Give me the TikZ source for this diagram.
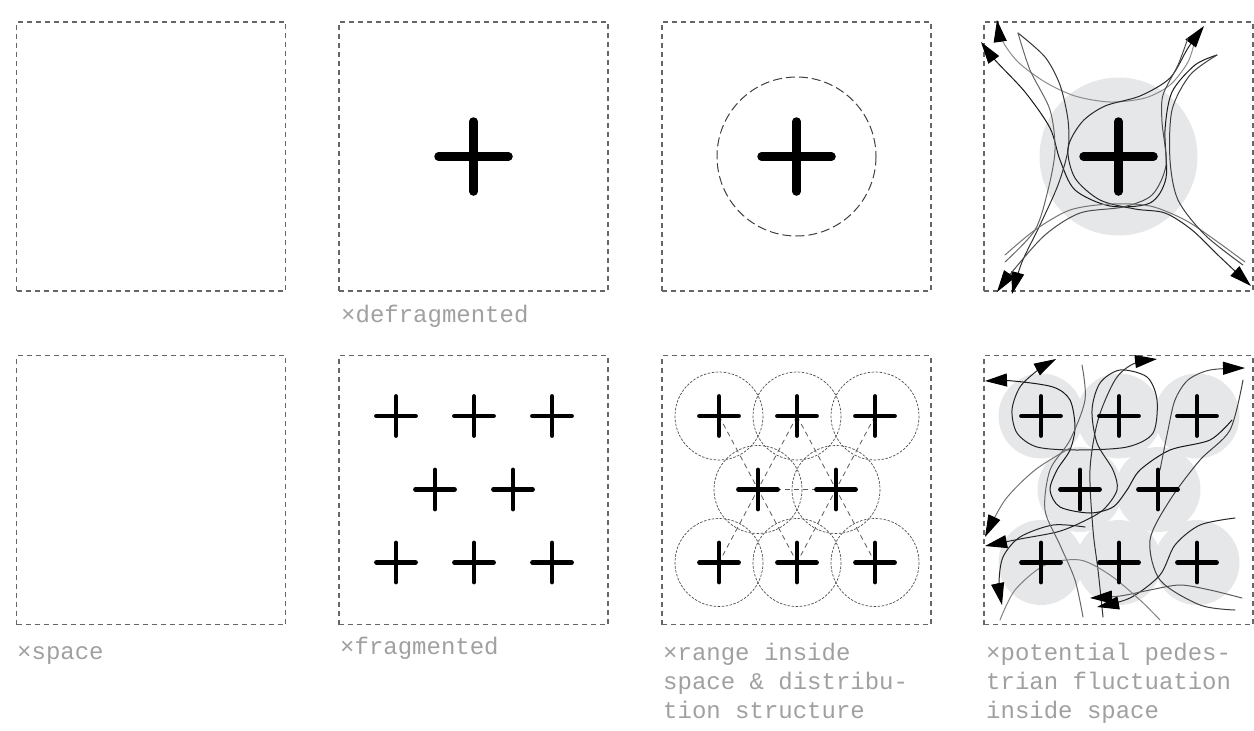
\documentclass[tikz,border=0pt]{standalone}
\usepackage{fontspec}
\newfontfamily\labfont{Liberation Mono}
\usetikzlibrary{arrows.meta}
\definecolor{boxgray}{HTML}{666666}
\definecolor{fillgray}{HTML}{E6E7E8}
\definecolor{txtgray}{HTML}{A0A0A0}
\tikzset{
  panel/.style={draw=boxgray, line width=1.1pt, dash pattern=on 5pt off 4pt, minimum size=269pt, inner sep=0pt},
  lab/.style={anchor=base west, inner sep=0pt, text=txtgray, font=\labfont\fontsize{24}{29}\selectfont},
  bigplus/.pic={\draw[line width=8.5pt,line cap=round] (-35,0)--(35,0) (0,-35)--(0,35);},
  smallplus/.pic={\draw[line width=4.8pt,line cap=round] (-19.5,0)--(19.5,0) (0,-19.5)--(0,19.5);},
  rangecircle/.style={draw=black!70, line width=0.7pt, dash pattern=on 2.5pt off 1.5pt},
  bigrange/.style={draw=black!75, line width=1pt, dash pattern=on 9pt off 4pt},
  link/.style={draw=black!65, line width=0.8pt, dash pattern=on 5pt off 4pt},
  flow/.style={line width=1pt, line cap=round},
  >={Triangle[length=22pt,width=13pt,color=black]},
  headend/.style={->},
  headstart/.style={<-},
  headboth/.style={<->},
}
\begin{document}
\begin{tikzpicture}[x=1pt,y=-1pt]
\useasboundingbox (0,0) rectangle (1254,731);

% ---------- panels ----------
\node[panel] (p11) at (151,156.5) {};
\node[panel] (p12) at (473.5,156.5) {};
\node[panel] (p13) at (796.5,156.5) {};
\node[panel] (p14) at (1118.5,156.5) {};
\node[panel] (p21) at (151,490) {};
\node[panel] (p22) at (473.5,490) {};
\node[panel] (p23) at (796.5,490) {};
\node[panel] (p24) at (1118.5,490) {};

% ---------- row 1 ----------
\pic at (p12.center) {bigplus};

\draw[bigrange] (p13.center) circle[radius=79.5];
\pic at (p13.center) {bigplus};

\fill[fillgray] (p14.center) circle[radius=79];
\begin{scope}[flow]
  \draw[headstart, draw=black!45] plot[smooth] coordinates {(997,20) (1002,40) (1018,62) (1045,82) (1075,96) (1110,102) (1145,98) (1170,85) (1188,62) (1195,40)};
  \draw[headstart, draw=black!90] plot[smooth] coordinates {(981,42) (995,60) (1025,92) (1050,128) (1060,160) (1075,190) (1110,206) (1150,203) (1166,178) (1165,130) (1172,92) (1195,65) (1217,55)};
  \draw[headend, draw=black!80] plot[smooth] coordinates {(1018,33) (1045,57) (1060,85) (1068,120) (1068,150) (1058,185) (1040,225) (1022,262) (1012,294)};
  \draw[headboth, draw=black!85] plot[smooth] coordinates {(1204,26) (1188,48) (1170,78) (1140,96) (1105,106) (1082,122) (1068,148) (1075,178) (1100,200) (1135,209) (1165,213) (1192,230) (1220,257) (1251,286)};
  \draw[headstart, draw=black!70] plot[smooth] coordinates {(997,292) (1012,272) (1045,235) (1080,213) (1123,207) (1152,195) (1166,165) (1162,122) (1163,95) (1178,65) (1188,38)};
  \draw[draw=black!55] plot[smooth] coordinates {(1005,255) (1035,230) (1070,210) (1110,204) (1150,206) (1185,220) (1215,240) (1245,262)};
  \draw[draw=black!75] plot[smooth] coordinates {(1217,55) (1190,75) (1172,110) (1170,160) (1178,200) (1205,235) (1243,265)};
  \draw[draw=black!60] plot[smooth] coordinates {(1018,33) (1030,70) (1050,110) (1055,150) (1048,190) (1035,230) (1005,262)};
\end{scope}
\pic at (p14.center) {bigplus};

% ---------- row 2 ----------
% fragmented
\foreach \x/\y in {396/416, 474/416, 552/416, 435/489.5, 513/489.5, 396/562.5, 474/562.5, 552/562.5}
  \pic at (\x,\y) {smallplus};

% range inside space
\coordinate (tl) at (719,416);
\coordinate (tm) at (797,416);
\coordinate (tr) at (875,416);
\coordinate (ml) at (758,489.5);
\coordinate (mr) at (836,489.5);
\coordinate (bl) at (719,562.5);
\coordinate (bm) at (797,562.5);
\coordinate (br) at (875,562.5);
\foreach \c in {tl,tm,tr,ml,mr,bl,bm,br}
  \draw[rangecircle] (\c) circle[radius=44];
\draw[link] (tl) -- (bm);
\draw[link] (tm) -- (bl);
\draw[link] (tm) -- (br);
\draw[link] (tr) -- (bm);
\draw[link] (ml) -- (mr);
\foreach \c in {tl,tm,tr,ml,mr,bl,bm,br}
  \pic at (\c) {smallplus};

% pedestrian fluctuation
\coordinate (qtl) at (1041,416);
\coordinate (qtm) at (1119,416);
\coordinate (qtr) at (1197,416);
\coordinate (qml) at (1080,489.5);
\coordinate (qmr) at (1158,489.5);
\coordinate (qbl) at (1041,562.5);
\coordinate (qbm) at (1119,562.5);
\coordinate (qbr) at (1197,562.5);
\foreach \c in {qtl,qtm,qtr,qml,qmr,qbl,qbm,qbr}
  \fill[fillgray] (\c) circle[radius=42.5];
\begin{scope}[flow]
  \draw[headboth, draw=black!85] plot[smooth] coordinates {(1056,359) (1038,370) (1020,387) (1012,410) (1017,433) (1037,447) (1077,450) (1127,447) (1153,433) (1157,400) (1147,377) (1120,370) (1100,383) (1092,410) (1097,443) (1113,470) (1117,490) (1103,510) (1080,523) (1057,532) (1020,539) (985,546)};
  \draw[headstart, draw=black!90] plot[smooth] coordinates {(985,381) (1013,381) (1053,387) (1070,400) (1075,427) (1070,450) (1057,470) (1050,490) (1060,507) (1090,513) (1113,507) (1127,490) (1140,470) (1170,450) (1210,440) (1232,420)};
  \draw[headend, draw=black!80] plot[smooth] coordinates {(1103,617) (1098,570) (1093,530) (1090,470) (1098,420) (1115,380) (1133,364) (1157,359)};
  \draw[headend, draw=black!70] plot[smooth] coordinates {(1160,470) (1168,430) (1175,400) (1188,380) (1210,370) (1245,368)};
  \draw[headend, draw=black!55] plot[smooth] coordinates {(1070,448) (1035,470) (1005,500) (985,537)};
  \draw[headend, draw=black!85] plot[smooth] coordinates {(1085,527) (1053,525) (1020,537) (1003,557) (999,583) (1002,605)};
  \draw[headend, draw=black!85] plot[smooth] coordinates {(1235,518) (1200,525) (1175,545) (1160,575) (1130,598) (1097,607)};
  \draw[headend, draw=black!65] plot[smooth] coordinates {(1242,598) (1210,590) (1180,585) (1150,590) (1120,596) (1090,598)};
  \draw[draw=black!60] plot[smooth] coordinates {(1083,617) (1075,580) (1060,545) (1045,510) (1050,470) (1070,440) (1085,400) (1082,365)};
  \draw[draw=black!75] plot[smooth] coordinates {(1243,380) (1230,430) (1200,460) (1170,500) (1150,540) (1160,580) (1200,605) (1235,610)};
  \draw[draw=black!50] plot[smooth] coordinates {(1000,620) (1015,590) (1045,565) (1080,560) (1110,575) (1140,600) (1160,620)};
\end{scope}
\foreach \c in {qtl,qtm,qtr,qml,qmr,qbl,qbm,qbr}
  \pic at (\c) {smallplus};

% ---------- labels ----------
\node[lab] (l12) at (341,322) {×defragmented};
\node[lab] (l21) at (17,659) {×space};
\node[lab] (l22) at (340,654) {×fragmented};
\node[lab] (l23a) at (663,660) {×range inside};
\node[lab] (l23b) at (663,689) {space \& distribu-};
\node[lab] (l23c) at (663,718) {tion structure};
\node[lab] (l24a) at (986,660) {×potential pedes-};
\node[lab] (l24b) at (986,689) {trian fluctuation};
\node[lab] (l24c) at (986,718) {inside space};
\end{tikzpicture}
\end{document}
